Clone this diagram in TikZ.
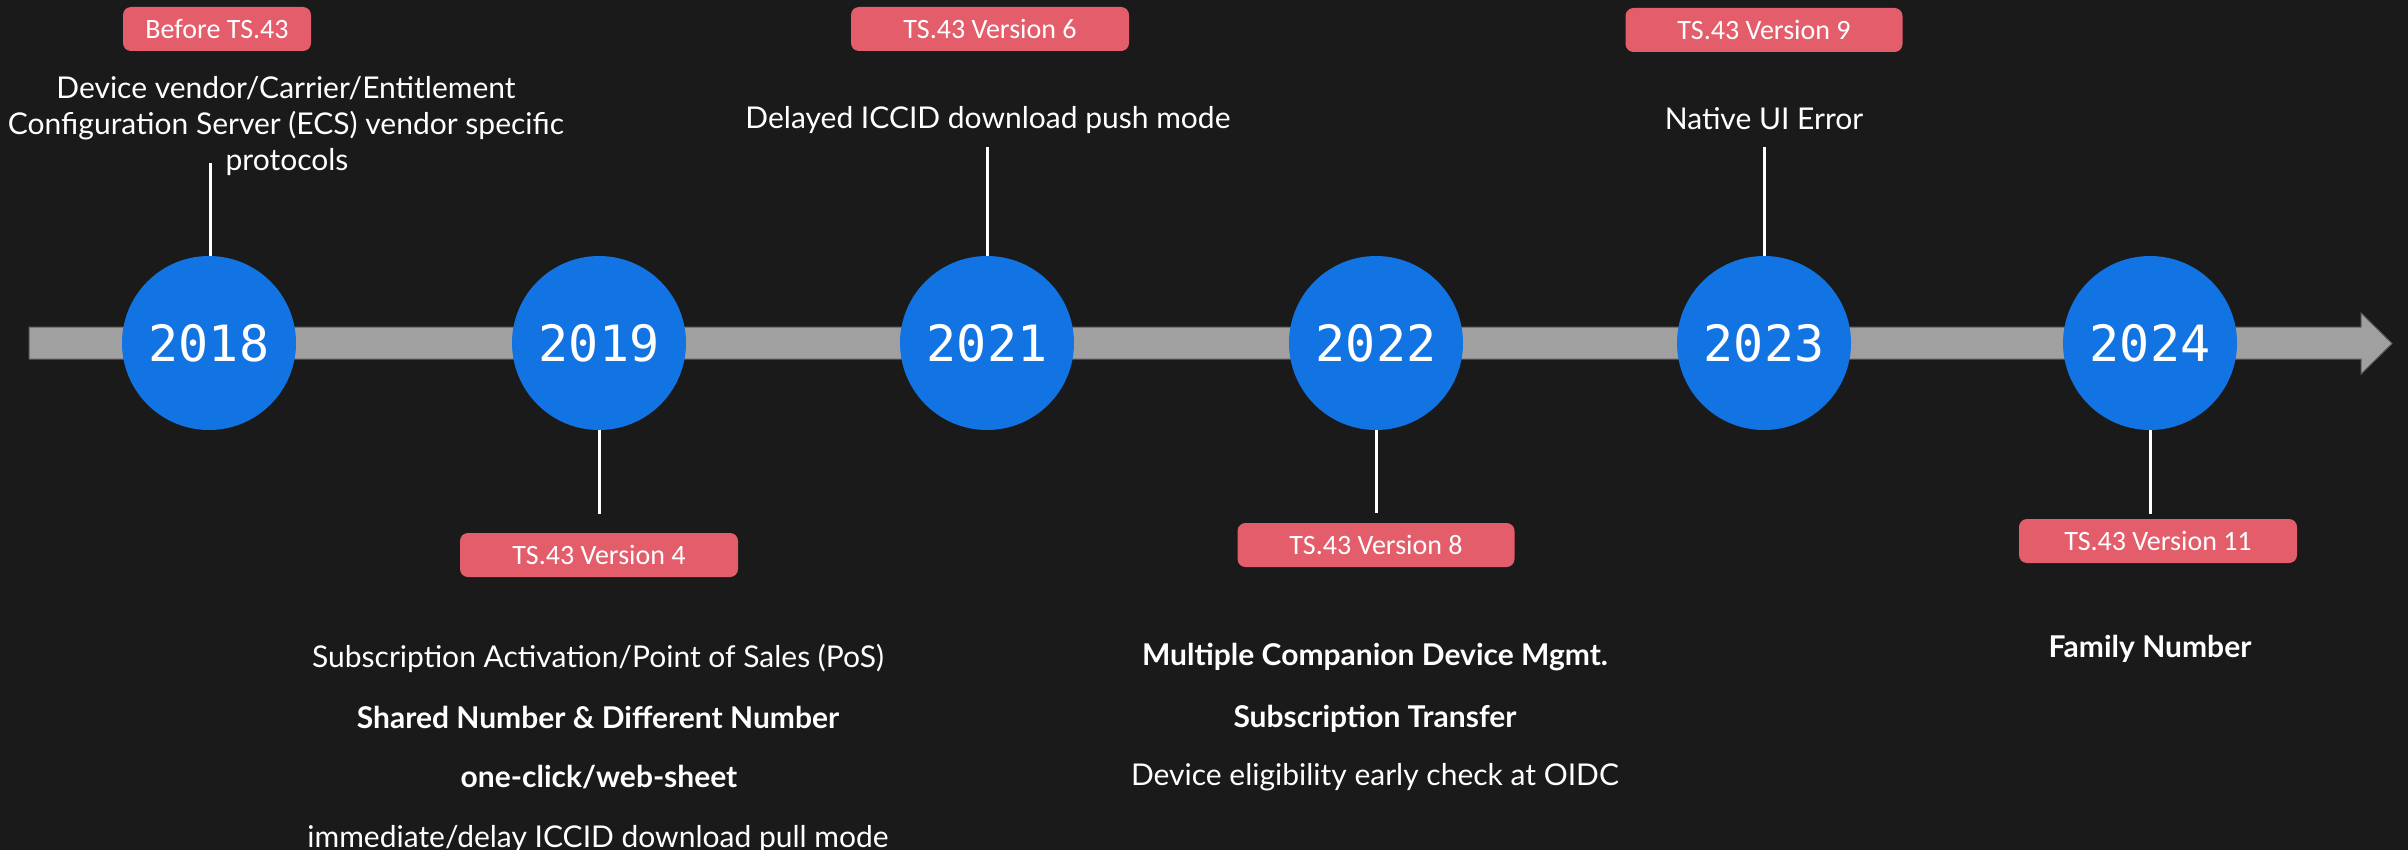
\documentclass[tikz,border=0pt]{standalone}
\usepackage{fontspec}
\setmainfont{Lato}
\newfontfamily\yearfont{DejaVu Sans Mono}
\newfontfamily\tagfont{Carlito}
\usepackage{tikz}
\definecolor{bgdark}{HTML}{1A1A1A}
\definecolor{yearblue}{HTML}{1273E3}
\definecolor{tagred}{HTML}{E45D6B}
\definecolor{bargray}{HTML}{A0A0A0}
\definecolor{baredge}{HTML}{5E5E5E}
\tikzset{
	yearball/.style={circle, fill=yearblue, minimum size=174pt, inner sep=0pt, text=white, font=\yearfont\fontsize{50}{50}\selectfont},
	versiontag/.style={rectangle, rounded corners=8pt, fill=tagred, text=white, minimum height=44pt, inner sep=0pt, font=\tagfont\fontsize{28}{28}\selectfont},
	note/.style={text=white, anchor=base, inner sep=0pt, font=\fontsize{30}{36}\selectfont},
	boldnote/.style={note, font=\bfseries\fontsize{30}{36}\selectfont},
	stem/.style={draw=white, line width=3pt}
}
\newcommand{\timebar}{\filldraw[fill=bargray, draw=baredge, line width=1pt] (29,327) -- (2361,327) -- (2361,313) -- (2392,343.5) -- (2361,374) -- (2361,359) -- (29,359) -- cycle;}

\begin{document}
\begin{tikzpicture}[x=1pt, y=-1pt]

					\fill[bgdark] (0,0) rectangle (2408,850);

					\timebar

					\node[yearball] (y2018) at (209,343) {2018};
					\node[yearball] (y2019) at (599,343) {2019};
					\node[yearball] (y2021) at (987,343) {2021};
					\node[yearball] (y2022) at (1376,343) {2022};
					\node[yearball] (y2023) at (1764,343) {2023};
					\node[yearball] (y2024) at (2150,343) {2024};

					\node[versiontag, minimum width=188pt] (tag2018) at (217,29) {Before TS.43};
					\node[versiontag, minimum width=278pt] (tag2019) at (599,555) {TS.43 Version 4};
					\node[versiontag, minimum width=278pt] (tag2021) at (990,29) {TS.43 Version 6};
					\node[versiontag, minimum width=277pt] (tag2022) at (1376,545) {TS.43 Version 8};
					\node[versiontag, minimum width=277pt] (tag2023) at (1764,30) {TS.43 Version 9};
					\node[versiontag, minimum width=278pt] (tag2024) at (2158,541) {TS.43 Version 11};

					\node[note] (note2018a) at (286,98) {Device vendor/Carrier/Entitlement};
					\node[note] (note2018b) at (286,134) {Configuration Server (ECS) vendor specific};
					\node[note] (note2018c) at (287,170) {protocols};

					\node[note] (note2021) at (988,128) {Delayed ICCID download push mode};

					\node[note] (note2023) at (1764,129) {Native UI Error};

					\node[note] (note2019a) at (598,667) {Subscription Activation/Point of Sales (PoS)};
					\node[boldnote] (note2019b) at (598,728) {Shared Number \& Different Number};
					\node[boldnote] (note2019c) at (599,787) {one-click/web-sheet};
					\node[note] (note2019d) at (598,847) {immediate/delay ICCID download pull mode};

					\node[boldnote] (note2022a) at (1375,665) {Multiple Companion Device Mgmt.};
					\node[boldnote] (note2022b) at (1375,727) {Subscription Transfer};
					\node[note] (note2022c) at (1375,785) {Device eligibility early check at OIDC};

					\node[boldnote] (note2024) at (2150,657) {Family Number};

					\coordinate (top2018) at (210,163);
					\coordinate (top2021) at (987,147);
					\coordinate (top2023) at (1764,147);
					\coordinate (end2019) at (599,514);
					\coordinate (end2022) at (1376,513);
					\coordinate (end2024) at (2150,514);

					\draw[stem] (y2018.north -| top2018) -- (top2018);
					\draw[stem] (y2021.north) -- (top2021);
					\draw[stem] (y2023.north) -- (top2023);
					\draw[stem] (y2019.south) -- (end2019);
					\draw[stem] (y2022.south) -- (end2022);
					\draw[stem] (y2024.south) -- (end2024);

				\end{tikzpicture}
\end{document}
